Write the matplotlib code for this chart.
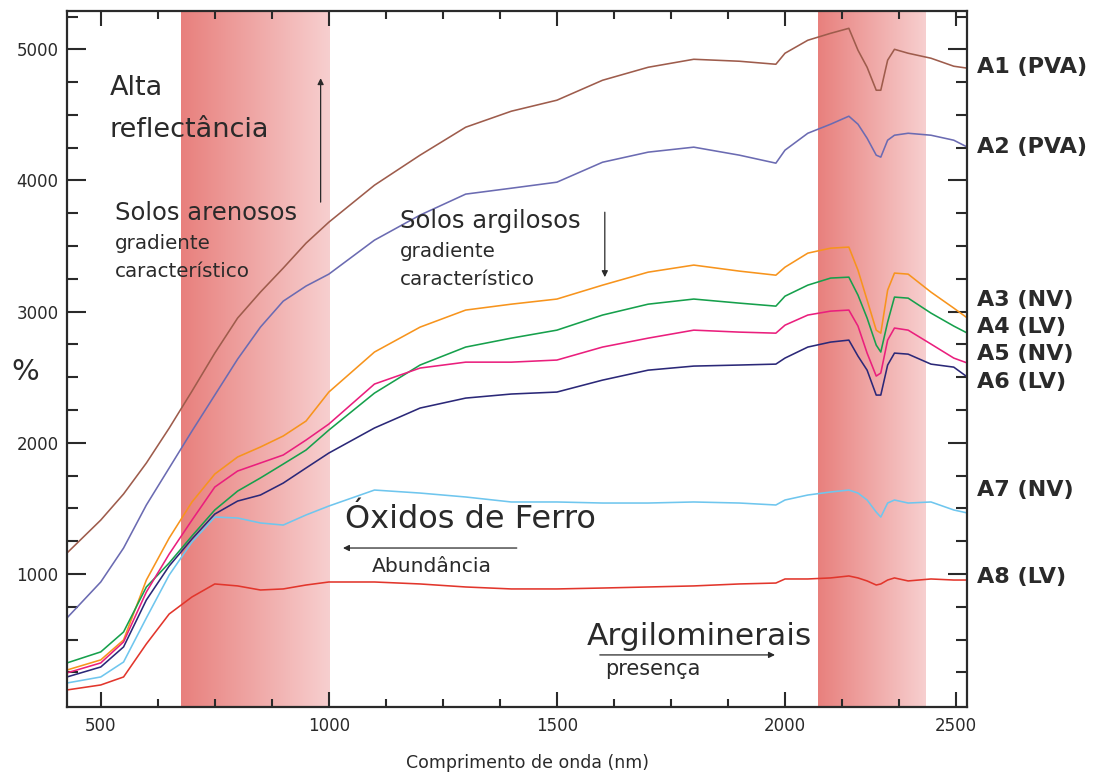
import numpy as np
import matplotlib
matplotlib.use("Agg")
import matplotlib.pyplot as plt
from matplotlib.colors import LinearSegmentedColormap

plt.rcParams["font.family"] = ["DejaVu Sans"]

# comprimento de onda (nm)
wl = [426, 500, 550, 600, 650, 700, 750, 800, 850, 900, 950, 1000, 1100, 1200,
      1300, 1400, 1500, 1600, 1700, 1800, 1900, 1980, 2000, 2050, 2100, 2140,
      2160, 2180, 2200, 2210, 2225, 2240, 2270, 2320, 2370, 2400]

a1_pva = [1160, 1411, 1610, 1846, 2112, 2394, 2684, 2951, 3149, 3332, 3522, 3682,
          3964, 4193, 4406, 4528, 4612, 4764, 4863, 4924, 4909, 4886, 4970, 5069,
          5122, 5160, 4993, 4863, 4688, 4688, 4917, 5000, 4970, 4932, 4871, 4856]
a2_pva = [665, 939, 1198, 1526, 1808, 2090, 2364, 2638, 2882, 3080, 3195, 3286,
          3545, 3736, 3896, 3941, 3987, 4139, 4216, 4254, 4193, 4132, 4231, 4360,
          4429, 4490, 4429, 4322, 4193, 4178, 4307, 4345, 4360, 4345, 4307, 4254]
a3_nv = [268, 345, 497, 954, 1274, 1549, 1762, 1892, 1968, 2052, 2166, 2387,
         2692, 2882, 3012, 3057, 3096, 3202, 3301, 3355, 3309, 3278, 3339, 3446,
         3484, 3492, 3316, 3088, 2859, 2836, 3164, 3294, 3286, 3149, 3027, 2951]
a4_lv = [322, 406, 558, 901, 1084, 1290, 1488, 1632, 1732, 1838, 1945, 2097,
         2379, 2593, 2730, 2798, 2859, 2974, 3057, 3096, 3065, 3042, 3118, 3202,
         3256, 3263, 3126, 2951, 2745, 2692, 2920, 3111, 3103, 2989, 2890, 2836]
a5_nv = [246, 322, 482, 863, 1152, 1411, 1663, 1785, 1846, 1907, 2021, 2143,
         2448, 2570, 2615, 2615, 2631, 2730, 2798, 2859, 2844, 2836, 2897, 2974,
         3004, 3012, 2890, 2684, 2509, 2532, 2783, 2875, 2859, 2753, 2646, 2608]
a6_lv = [215, 291, 444, 802, 1061, 1267, 1457, 1556, 1602, 1693, 1808, 1922,
         2113, 2265, 2341, 2372, 2387, 2478, 2554, 2585, 2593, 2600, 2646, 2730,
         2768, 2783, 2661, 2554, 2364, 2364, 2593, 2684, 2676, 2600, 2577, 2501]
a7_nv = [169, 215, 329, 665, 992, 1244, 1434, 1427, 1389, 1373, 1450, 1518,
         1640, 1617, 1587, 1549, 1549, 1541, 1541, 1549, 1541, 1526, 1564, 1602,
         1625, 1640, 1617, 1564, 1472, 1434, 1541, 1564, 1541, 1549, 1488, 1465]
a8_lv = [116, 154, 215, 467, 695, 825, 924, 909, 878, 886, 916, 939,
         939, 924, 901, 886, 886, 893, 901, 909, 924, 931, 962, 962,
         970, 985, 970, 947, 916, 924, 954, 970, 947, 962, 954, 954]

series = [a1_pva, a2_pva, a3_nv, a4_lv, a5_nv, a6_lv, a7_nv, a8_lv]
labels = ["A1 (PVA)", "A2 (PVA)", "A3 (NV)", "A4 (LV)",
          "A5 (NV)", "A6 (LV)", "A7 (NV)", "A8 (LV)"]
label_y = [4863, 4254, 3088, 2882, 2676, 2463, 1640, 977]
colors = ["#9e5c4c", "#6b6bb2", "#f7941d", "#16a04c",
          "#ea1f7d", "#2b2878", "#6fc6ee", "#e2362c"]

# faixas de absorcao (nm)
bands = [(675, 1000), (2072, 2307)]

x_major = [500, 1000, 1500, 2000, 2375]
x_major_labels = ["500", "1000", "1500", "2000", "2500"]
x_minor = [625, 750, 875, 1125, 1250, 1375, 1625, 1750, 1875, 2125, 2250]

XLIM = (426, 2399)
YLIM = (-14, 5292)
dark = "#2a2a2a"

fig = plt.figure(figsize=(10.94, 7.76), dpi=100)
ax = fig.add_axes([67 / 1094, 69 / 776, 900 / 1094, 696 / 776])

band_cmap = LinearSegmentedColormap.from_list("band", ["#e8807d", "#f7cfcf"])
grad = np.linspace(0, 1, 256).reshape(1, -1)
for x0, x1 in bands:
    ax.imshow(grad, cmap=band_cmap, extent=(x0, x1, YLIM[0], YLIM[1]),
              aspect="auto", zorder=0, interpolation="bilinear")

for vals, c in zip(series, colors):
    ax.plot(wl, vals, color=c, lw=1.15, zorder=2)

ax.set_xlim(*XLIM)
ax.set_ylim(*YLIM)

ax.set_xticks(x_major)
ax.set_xticklabels(x_major_labels)
ax.set_xticks(x_minor, minor=True)
ax.set_yticks([1000, 2000, 3000, 4000, 5000])
ax.set_yticks(np.arange(250, 5251, 250), minor=True)

for s in ax.spines.values():
    s.set_linewidth(1.6)
    s.set_color(dark)

ax.tick_params(axis="y", which="major", direction="in", length=14, width=1.5,
               left=True, right=True, labelsize=12, pad=6, color=dark,
               labelcolor=dark)
ax.tick_params(axis="y", which="minor", direction="in", length=8, width=1.5,
               left=True, right=True, color=dark)
ax.tick_params(axis="x", which="major", direction="in", length=11, width=1.5,
               top=True, bottom=True, labelsize=12, pad=7, color=dark,
               labelcolor=dark)
ax.tick_params(axis="x", which="minor", direction="in", length=6, width=1.5,
               top=True, bottom=True, color=dark)

# rotulos das curvas
trans = ax.get_yaxis_transform()
for lab, y in zip(labels, label_y):
    ax.text(1.011, y, lab, transform=trans, fontsize=16, fontweight="bold",
            color=dark, va="center", ha="left", clip_on=False)

# textos
ax.text(520, 4650, "Alta", fontsize=19.5, color=dark)
ax.text(520, 4330, "reflectância", fontsize=19.5, color=dark)
ax.text(531, 3697, "Solos arenosos", fontsize=17.5, color=dark)
ax.text(531, 3477, "gradiente", fontsize=14.3, color=dark)
ax.text(531, 3263, "característico", fontsize=14.3, color=dark)
ax.text(1156, 3637, "Solos argilosos", fontsize=17.5, color=dark)
ax.text(1156, 3416, "gradiente", fontsize=14.3, color=dark)
ax.text(1156, 3202, "característico", fontsize=14.3, color=dark)
ax.text(1035, 1351, "Óxidos de Ferro", fontsize=23, color=dark)
ax.text(1094, 1015, "Abundância", fontsize=14.6, color=dark)
ax.text(1566, 459, "Argilominerais", fontsize=22.5, color=dark)
ax.text(1605, 230, "presença", fontsize=15, color=dark)

arrow = dict(arrowstyle="-|>", lw=0.9, color=dark, mutation_scale=9,
             shrinkA=0, shrinkB=0)
ax.annotate("", xy=(982, 4780), xytext=(982, 3835), arrowprops=arrow)
ax.annotate("", xy=(1605, 3263), xytext=(1605, 3758), arrowprops=arrow)
ax.annotate("", xy=(1031, 1198), xytext=(1412, 1198), arrowprops=arrow)
ax.annotate("", xy=(1978, 383), xytext=(1594, 383), arrowprops=arrow)

fig.text(25 / 1094, 1 - 372 / 776, "%", fontsize=21, color=dark,
         ha="center", va="center")
fig.text(528 / 1094, 1 - 763 / 776, "Comprimento de onda (nm)", fontsize=12.5,
         color=dark, ha="center", va="center")

fig.savefig("out.png", dpi=100)
